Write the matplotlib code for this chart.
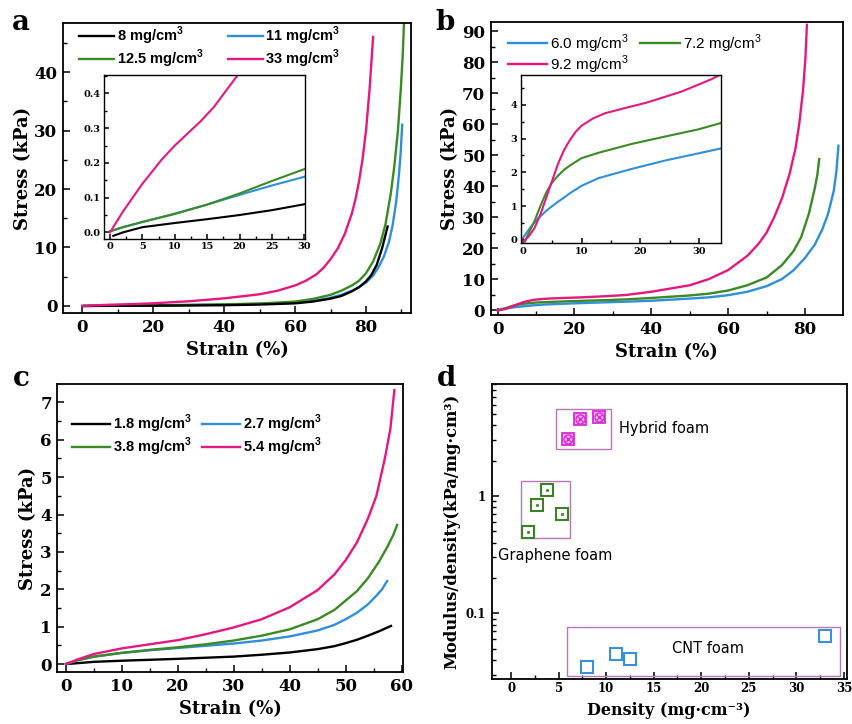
import numpy as np
import matplotlib
matplotlib.use("Agg")
import matplotlib.pyplot as plt
from matplotlib.ticker import MultipleLocator, LogLocator, NullFormatter, FixedLocator, FixedFormatter
from matplotlib.patches import Rectangle

# ---------------- data ----------------
SUP3 = r"$^{\mathregular{3}}$"
# panel a (CNT foams)
a_labels = ["8 mg/cm" + SUP3, "11 mg/cm" + SUP3, "12.5 mg/cm" + SUP3, "33 mg/cm" + SUP3]
a8_x = [0.5, 2, 5, 10, 15, 20, 25, 30, 40, 50, 60, 65, 70, 73, 76, 78, 80, 81.5, 83, 84.5, 86.1]
a8_y = [-0.01, 0.0, 0.015, 0.027, 0.038, 0.05, 0.064, 0.081, 0.13, 0.24, 0.45, 0.75, 1.25, 1.7, 2.5, 3.2, 4.2, 5.3, 7.0, 9.8, 13.6]
a11_x = [0, 2, 5, 10, 15, 20, 25, 30, 40, 50, 60, 65, 70, 73, 76, 78, 80, 82, 83.5, 85, 86.5, 87.5, 88.5, 89.3, 89.8, 90.2]
a11_y = [0.003, 0.015, 0.03, 0.054, 0.08, 0.108, 0.135, 0.16, 0.24, 0.35, 0.55, 0.85, 1.4, 1.9, 2.6, 3.2, 4.0, 5.2, 6.6, 8.4, 11, 13.8, 17.8, 22.5, 26.5, 31]
a125_x = [0, 2, 5, 10, 15, 20, 25, 30, 40, 50, 60, 65, 70, 73, 76, 78, 80, 82, 84, 85.5, 87, 88, 89, 89.8, 90.4, 90.8]
a125_y = [0.003, 0.015, 0.03, 0.053, 0.08, 0.112, 0.148, 0.182, 0.28, 0.42, 0.75, 1.2, 1.9, 2.6, 3.5, 4.3, 5.6, 7.6, 10.6, 14, 19.3, 24, 30, 37, 43.5, 50]
a33_x = [0, 2, 5, 8, 10, 12, 14, 16, 18, 20, 30, 40, 50, 55, 60, 63, 66, 68, 70, 72, 74, 76, 77, 78, 79, 80, 81, 82]
a33_y = [0, 0.06, 0.14, 0.21, 0.25, 0.285, 0.32, 0.36, 0.41, 0.46, 0.8, 1.3, 2.0, 2.6, 3.5, 4.3, 5.4, 6.5, 8.0, 9.8, 12.3, 15.8, 18.2, 21.2, 25, 30, 37, 46]

# panel b (hybrid foams)
b_labels = ["6.0 mg/cm" + SUP3, "7.2 mg/cm" + SUP3, "9.2 mg/cm" + SUP3]
b60_x = [0, 1, 2, 3, 4, 5, 6, 7, 8, 10, 12.9, 18.5, 24.2, 29.8, 33.5, 40, 50, 55, 60, 65, 70, 74, 77, 80, 82.5, 84.5, 86, 87.5, 88.2, 88.7]
b60_y = [0.05, 0.3, 0.52, 0.7, 0.86, 1.0, 1.13, 1.25, 1.38, 1.6, 1.83, 2.1, 2.35, 2.56, 2.7, 3.0, 3.7, 4.1, 4.8, 5.9, 7.7, 10, 12.8, 16.8, 21, 26, 31, 38.5, 45, 53]
b72_x = [0.4, 1, 2, 3, 4, 5, 6, 7, 8, 10, 12.9, 18.5, 24.2, 29.8, 33.5, 40, 50, 55, 60, 65, 70, 74, 77, 79, 81, 82.5, 83.2, 83.7]
b72_y = [-0.05, 0.2, 0.55, 1.0, 1.4, 1.7, 1.9, 2.07, 2.2, 2.42, 2.58, 2.84, 3.06, 3.27, 3.45, 3.9, 4.7, 5.3, 6.3, 8.0, 10.5, 14.5, 19, 23.5, 31, 39, 43.5, 48.7]
b92_x = [0, 1, 2, 3, 4, 5, 6, 7, 8, 9, 10, 12, 14, 18, 21, 27, 32, 33.5, 40, 50, 55, 60, 65, 68, 70, 72, 74, 76, 77.5, 78.5, 79.5, 80.1, 80.5]
b92_y = [-0.05, 0.1, 0.35, 0.75, 1.25, 1.75, 2.25, 2.65, 2.95, 3.2, 3.38, 3.6, 3.75, 3.93, 4.06, 4.39, 4.75, 4.88, 5.9, 8.0, 10, 12.9, 17.5, 21.5, 25, 30, 36, 44, 52, 60, 71, 81, 92]

# panel c (graphene foams)
c_labels = ["1.8 mg/cm" + SUP3, "2.7 mg/cm" + SUP3, "3.8 mg/cm" + SUP3, "5.4 mg/cm" + SUP3]
c18_x = [0, 5, 10, 20, 30, 35, 40, 45, 48, 50, 52, 54, 56, 58.1]
c18_y = [0, 0.06, 0.09, 0.14, 0.2, 0.25, 0.31, 0.4, 0.48, 0.56, 0.65, 0.76, 0.88, 1.02]
c27_x = [0, 2, 5, 10, 15, 20, 25, 30, 35, 40, 45, 48, 50, 52, 54, 55.5, 56.5, 57.4]
c27_y = [0, 0.1, 0.2, 0.3, 0.37, 0.43, 0.49, 0.55, 0.63, 0.74, 0.9, 1.05, 1.2, 1.37, 1.6, 1.83, 2.0, 2.22]
c38_x = [0, 2, 5, 10, 15, 20, 25, 30, 35, 40, 45, 48, 50, 52, 54, 56, 57.5, 58.5, 59.2]
c38_y = [0, 0.1, 0.2, 0.3, 0.38, 0.45, 0.53, 0.63, 0.76, 0.93, 1.2, 1.45, 1.7, 1.95, 2.3, 2.75, 3.15, 3.45, 3.72]
c54_x = [0, 2, 5, 10, 15, 20, 25, 30, 35, 40, 45, 48, 50, 52, 54, 55.5, 57, 58, 58.7]
c54_y = [0, 0.12, 0.27, 0.42, 0.53, 0.64, 0.8, 0.98, 1.2, 1.52, 1.98, 2.4, 2.78, 3.25, 3.9, 4.5, 5.5, 6.3, 7.33]

# panel d (modulus / density vs density)
hyb_density = [6.0, 7.2, 9.2]
hyb_modulus = [3.06, 4.56, 4.69]
gra_density = [1.8, 2.7, 3.8, 5.4]
gra_modulus = [0.496, 0.838, 1.125, 0.706]
cnt_density = [8.0, 11.0, 12.5, 33.0]
cnt_modulus = [0.0346, 0.0453, 0.0405, 0.064]
group_names = ["Hybrid foam", "Graphene foam", "CNT foam"]

# ---------------- style ----------------
BLACK = "#000000"
BLUE = "#2f8fd8"
GREEN = "#3a8a26"
MAGENTA = "#e3197f"
SERIF = "DejaVu Serif"
SANS = "Liberation Sans"

fig = plt.figure(figsize=(8.53, 7.24), dpi=100)


def style_axes(ax, tick_fs=12, lw=1.3):
    for s in ax.spines.values():
        s.set_linewidth(lw)
    ax.tick_params(which="both", direction="in", top=False, right=False)
    ax.tick_params(which="major", length=5, width=1.1, labelsize=tick_fs, pad=4)
    ax.tick_params(which="minor", length=3, width=1.0)
    for lab in ax.get_xticklabels() + ax.get_yticklabels():
        lab.set_fontfamily(SERIF)
        lab.set_fontweight("bold")


def ordered_legend(ax, order, **kw):
    h, l = ax.get_legend_handles_labels()
    leg = ax.legend([h[k] for k in order], [l[k] for k in order], **kw)
    leg.set_zorder(10)
    return leg


lw_curve = 1.7

# ---------- panel a ----------
axa = fig.add_axes([0.0739, 0.5677, 0.408, 0.4006])
series_a = [(a8_x, a8_y, BLACK), (a11_x, a11_y, BLUE), (a125_x, a125_y, GREEN), (a33_x, a33_y, MAGENTA)]
draw_a = [1, 2, 0, 3]
for i in draw_a:
    x, y, c = series_a[i]
    axa.plot(x, y, color=c, lw=lw_curve, label=a_labels[i])
axa.set_xlim(-5.4, 92.7)
axa.set_ylim(-1.2, 48.4)
axa.xaxis.set_major_locator(MultipleLocator(20))
axa.xaxis.set_minor_locator(MultipleLocator(10))
axa.yaxis.set_major_locator(MultipleLocator(10))
axa.yaxis.set_minor_locator(MultipleLocator(5))
style_axes(axa)
axa.set_xlabel("Strain (%)", family=SERIF, weight="bold", fontsize=13, labelpad=4)
axa.set_ylabel("Stress (kPa)", family=SERIF, weight="bold", fontsize=13, labelpad=2)
# handles were added in draw order [11, 12.5, 8, 33]; legend rows: 8 | 11 ; 12.5 | 33
ordered_legend(axa, [2, 1, 0, 3], ncol=2, frameon=False,
               loc="upper left", bbox_to_anchor=(0.0085, 1.04), handlelength=2.4,
               handletextpad=0.2, columnspacing=1.6, labelspacing=0.05,
               prop={"family": SANS, "weight": "bold", "size": 10.5})

ina = fig.add_axes([0.1219, 0.6699, 0.2356, 0.2265])
for i in draw_a:
    x, y, c = series_a[i]
    ina.plot(x, y, color=c, lw=1.5)
ina.set_xlim(-0.93, 30.1)
ina.set_ylim(-0.019, 0.453)
ina.xaxis.set_major_locator(MultipleLocator(5))
ina.xaxis.set_minor_locator(MultipleLocator(2.5))
ina.yaxis.set_major_locator(MultipleLocator(0.1))
ina.yaxis.set_minor_locator(MultipleLocator(0.05))
style_axes(ina, tick_fs=7, lw=1.0)
ina.tick_params(which="major", length=3.5, pad=2.5)
ina.tick_params(which="minor", length=2)

# ---------- panel b ----------
axb = fig.add_axes([0.5753, 0.5649, 0.4130, 0.4051])
series_b = [(b60_x, b60_y, BLUE), (b72_x, b72_y, GREEN), (b92_x, b92_y, MAGENTA)]
for i, (x, y, c) in enumerate(series_b):
    axb.plot(x, y, color=c, lw=lw_curve, label=b_labels[i])
axb.set_xlim(-1.8, 89.9)
axb.set_ylim(-1.6, 93)
axb.xaxis.set_major_locator(MultipleLocator(20))
axb.xaxis.set_minor_locator(MultipleLocator(10))
axb.yaxis.set_major_locator(MultipleLocator(10))
axb.yaxis.set_minor_locator(MultipleLocator(5))
style_axes(axb)
axb.set_xlabel("Strain (%)", family=SERIF, weight="bold", fontsize=13, labelpad=4)
axb.set_ylabel("Stress (kPa)", family=SERIF, weight="bold", fontsize=13, labelpad=2)
ordered_legend(axb, [0, 2, 1], ncol=2, frameon=False, loc="upper left", bbox_to_anchor=(0.009, 1.01),
               handlelength=2.6, handletextpad=0.2, columnspacing=0.7, labelspacing=-0.1,
               prop={"family": SANS, "size": 11})

inb = fig.add_axes([0.6104, 0.6639, 0.2348, 0.2320])
for x, y, c in series_b:
    inb.plot(x, y, color=c, lw=1.5)
inb.set_xlim(-0.34, 33.7)
inb.set_ylim(-0.1, 4.87)
inb.xaxis.set_major_locator(MultipleLocator(10))
inb.xaxis.set_minor_locator(MultipleLocator(5))
inb.yaxis.set_major_locator(MultipleLocator(1))
inb.yaxis.set_minor_locator(MultipleLocator(0.5))
style_axes(inb, tick_fs=7, lw=1.0)
inb.tick_params(which="major", length=3.5, pad=2.5)
inb.tick_params(which="minor", length=2)

# ---------- panel c ----------
axc = fig.add_axes([0.0672, 0.0714, 0.4056, 0.3982])
series_c = [(c18_x, c18_y, BLACK), (c27_x, c27_y, BLUE), (c38_x, c38_y, GREEN), (c54_x, c54_y, MAGENTA)]
for i, (x, y, c) in enumerate(series_c):
    axc.plot(x, y, color=c, lw=lw_curve, label=c_labels[i])
axc.set_xlim(-1.55, 60.3)
axc.set_ylim(-0.22, 7.49)
axc.xaxis.set_major_locator(MultipleLocator(10))
axc.xaxis.set_minor_locator(MultipleLocator(5))
axc.yaxis.set_major_locator(MultipleLocator(1))
axc.yaxis.set_minor_locator(MultipleLocator(0.5))
style_axes(axc)
axc.set_xlabel("Strain (%)", family=SERIF, weight="bold", fontsize=13, labelpad=4)
axc.set_ylabel("Stress (kPa)", family=SERIF, weight="bold", fontsize=13, labelpad=2)
ordered_legend(axc, [0, 2, 1, 3], ncol=2, frameon=False, loc="upper left", bbox_to_anchor=(0.004, 0.945),
               handlelength=2.6, handletextpad=0.2, columnspacing=0.7, labelspacing=0.05,
               prop={"family": SANS, "weight": "bold", "size": 10.5})

# ---------- panel d ----------
axd = fig.add_axes([0.5764, 0.0622, 0.4162, 0.4075])
axd.set_yscale("log")
axd.set_xlim(-2.04, 35.3)
axd.set_ylim(0.0275, 9.0)
HYB = "#d92ad9"
GRA = "#3d7f2a"
CNT = "#3a8fd6"
BOX = "#b57ab5"
axd.plot(hyb_density, hyb_modulus, ls="none", marker="s", ms=9, mfc="#f2b6f2", mec=HYB, mew=1.3, zorder=3)
axd.plot(hyb_density, hyb_modulus, ls="none", marker="o", ms=6.5, mfc="none", mec=HYB, mew=1.0, zorder=4)
axd.plot(hyb_density, hyb_modulus, ls="none", marker="x", ms=4.5, mec=HYB, mew=1.0, zorder=5)
axd.plot(gra_density, gra_modulus, ls="none", marker="s", ms=8, mfc="none", mec=GRA, mew=1.5, zorder=3)
axd.plot(gra_density, gra_modulus, ls="none", marker="s", ms=2, mfc=GRA, mec=GRA, mew=0.5, zorder=4)
axd.plot(cnt_density, cnt_modulus, ls="none", marker="s", ms=8, mfc="none", mec=CNT, mew=1.5, zorder=3)

# group boxes (annotation frames)
box_hyb = (4.76, 2.52, 10.5, 5.52)
box_gra = (1.09, 0.436, 6.17, 1.335)
box_cnt = (5.89, 0.0292, 34.64, 0.0769)
for (x0, y0, x1, y1) in (box_hyb, box_gra, box_cnt):
    axd.add_patch(Rectangle((x0, y0), x1 - x0, y1 - y0, fill=False, ec=BOX, lw=1.0, zorder=2))
axd.text(11.3, 3.75, group_names[0], family="DejaVu Sans", fontsize=10.5, va="center", ha="left")
axd.text(-1.4, 0.31, group_names[1], family="DejaVu Sans", fontsize=10.5, va="center", ha="left")
axd.text(20.7, 0.0505, group_names[2], family="DejaVu Sans", fontsize=10.5, va="center", ha="center")

axd.xaxis.set_major_locator(MultipleLocator(5))
axd.xaxis.set_minor_locator(MultipleLocator(2.5))
axd.yaxis.set_major_locator(FixedLocator([0.1, 1]))
axd.yaxis.set_major_formatter(FixedFormatter(["0.1", "1"]))
axd.yaxis.set_minor_locator(LogLocator(base=10, subs=np.arange(2, 10) * 1.0, numticks=20))
axd.yaxis.set_minor_formatter(NullFormatter())
style_axes(axd, tick_fs=8.5)
axd.tick_params(axis="x", which="major", pad=2)
axd.set_xlabel("Density (mg·cm⁻³)", family=SERIF, weight="bold", fontsize=11.5, labelpad=5)
axd.set_ylabel("Modulus/density(kPa/mg·cm³)", family=SERIF, weight="bold", fontsize=11.8, labelpad=4)

# panel letters
for txt, xp, yp in (("a", 12, 30), ("b", 435, 30), ("c", 13, 386), ("d", 437, 386)):
    fig.text(xp / 853, 1 - yp / 724, txt, family=SERIF, weight="bold", fontsize=20, ha="left", va="baseline")

fig.savefig("out.png", dpi=100)
